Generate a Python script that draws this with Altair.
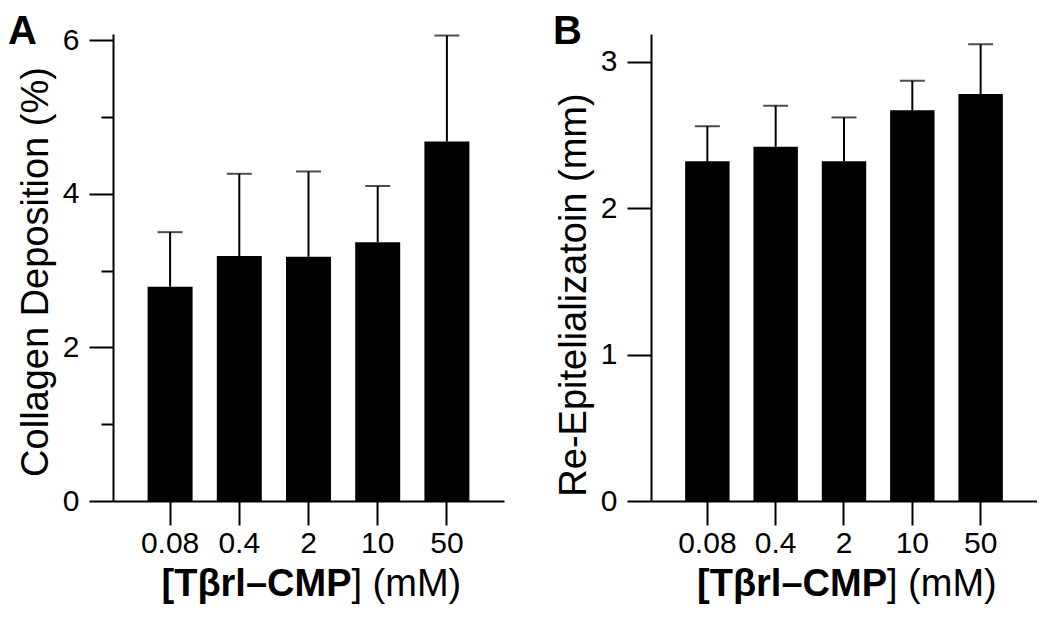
import altair as alt
import pandas as pd

# ---- data ----
concentrations = ["0.08", "0.4", "2", "10", "50"]
collagen_mean = [2.79, 3.19, 3.18, 3.37, 4.68]
collagen_upper = [3.50, 4.26, 4.29, 4.10, 6.06]
reepi_mean = [2.32, 2.42, 2.32, 2.67, 2.78]
reepi_upper = [2.56, 2.70, 2.62, 2.87, 3.12]

collagen_ticks = [0, 1, 2, 3, 4, 5, 6]
reepi_ticks = [0, 0.5, 1, 1.5, 2, 2.5, 3]

FONT = "Liberation Sans"
H = 467


def panel(means, uppers, ymax, ytitle, ticks, major_test, letter, width,
          letter_dx, title_shift):
    df = pd.DataFrame({"conc": concentrations, "mean": means, "upper": uppers})
    x = alt.X(
        "conc:N",
        sort=concentrations,
        scale=alt.Scale(paddingInner=0.35, paddingOuter=0.5),
        axis=alt.Axis(
            title=None, labelAngle=0, tickSize=24, tickWidth=2, tickColor="black",
            domainWidth=2, domainColor="black", labelFontSize=30, labelFont=FONT,
            labelColor="black", labelPadding=3,
        ),
    )
    y = alt.Y(
        "mean:Q",
        scale=alt.Scale(domain=[0, ymax], nice=False, zero=True),
        axis=alt.Axis(
            title=ytitle, values=ticks, grid=False, format="d",
            labelExpr=f"({major_test}) ? datum.label : ''",
            tickSize={"condition": {"test": major_test, "value": 24}, "value": 12},
            tickWidth=2, tickColor="black", domainWidth=2, domainColor="black",
            labelFontSize=30, labelFont=FONT, labelColor="black", labelPadding=10,
            titleFontSize=38, titleFont=FONT, titleFontWeight="normal",
            titleColor="black", titlePadding=7, titleY=H / 2 + title_shift,
        ),
    )
    base = alt.Chart(df)
    bars = base.mark_bar(color="black").encode(x=x, y=y)
    err = base.mark_rule(color="black", strokeWidth=2).encode(
        x=x, y="mean:Q", y2="upper:Q"
    )
    cap = base.mark_tick(color="black", size=25, thickness=2).encode(x=x, y="upper:Q")

    tdf = pd.DataFrame({"a": ["[Tβrl–CMP"], "b": ["] (mM)"], "l": [letter]})
    tb = alt.Chart(tdf).mark_text(
        font=FONT, fontSize=38, fontWeight="bold", align="right",
        baseline="alphabetic", color="black",
    ).encode(text="a:N", x=alt.value(width / 2 + 43), y=alt.value(H + 95))
    tr = alt.Chart(tdf).mark_text(
        font=FONT, fontSize=38, fontWeight="normal", align="left",
        baseline="alphabetic", color="black",
    ).encode(text="b:N", x=alt.value(width / 2 + 43), y=alt.value(H + 95))
    lt = alt.Chart(tdf).mark_text(
        font=FONT, fontSize=40, fontWeight="bold", align="left",
        baseline="alphabetic", color="black",
    ).encode(text="l:N", x=alt.value(letter_dx), y=alt.value(10))

    return alt.layer(bars, err, cap, tb, tr, lt).properties(width=width, height=H)


a = panel(collagen_mean, collagen_upper, 6.08, "Collagen Deposition (%)",
          collagen_ticks, "datum.value % 2 == 0", "A", 391, -105, 4)
b = panel(reepi_mean, reepi_upper, 3.19, "Re-Epitelializatoin (mm)",
          reepi_ticks, "datum.value % 1 == 0", "B", 386, -98, 27)

chart = (
    alt.hconcat(a, b, spacing=49)
    .properties(padding={"left": 0, "top": 4, "right": 0, "bottom": 0})
    .configure_view(stroke=None)
)

chart.save("out.html", embed_options={"renderer": "svg", "actions": False})
